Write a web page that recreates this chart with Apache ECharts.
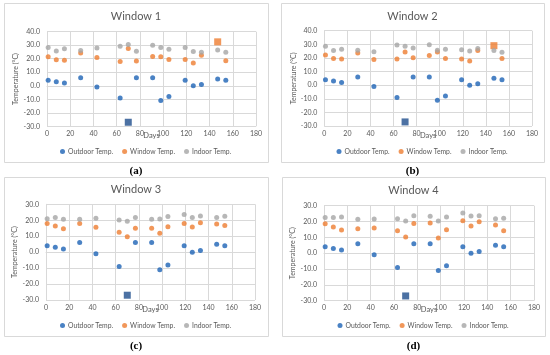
<!DOCTYPE html>
<html>
<head>
<meta charset="utf-8">
<script src="https://cdn.jsdelivr.net/npm/echarts@6/dist/echarts.min.js"></script>
<style>
html,body{margin:0;padding:0;background:#fff;}
#c{width:550px;height:355px;}
</style>
</head>
<body>
<div id="c"></div>
<script>
// ---- data ----
const days = [1, 8, 15, 29, 43, 63, 70, 77, 91, 98, 105, 119, 126, 133, 147, 154];
const outdoorTemp = [4, 3, 2, 6, -1, -9, -27, 6, 6, -11, -8, 4, 0, 1, 5, 4];
const w1Window = [21.5, 19.3, 18.8, 24.2, 21, 18, 27.5, 18.3, 21.7, 21.5, 19.5, 19.5, 16.8, 22.5, 32.5, 18.5];
const w1Indoor = [28.3, 25.8, 27.3, 26, 28, 29.3, 30.5, 25.6, 30, 28.3, 27, 28.3, 25.3, 24.8, 26.5, 24.8];
const w2Window = [22.2, 19.5, 19.3, 23.7, 18.8, 19.3, 24.4, 20.2, 21.7, 24.4, 19.5, 19.3, 17.8, 25.4, 29, 19.5];
const w2Indoor = [28.5, 25.4, 26.3, 25.6, 24.6, 29.5, 28.5, 27.3, 29.7, 25.6, 26.3, 26, 25, 27, 25.4, 24.1];
const w3Window = [17.9, 16.4, 14.6, 17.9, 15.6, 12.5, 9.6, 15, 15, 11.8, 16, 17.9, 15.8, 18.5, 17.7, 16.7];
const w3Indoor = [21, 21.7, 20.6, 20.6, 21.3, 20.2, 19.4, 21.7, 20.6, 20.8, 22.3, 23.6, 21.7, 22.7, 21.7, 22.5];
const w4Window = [18.6, 16.5, 14.6, 15.4, 15.9, 14.2, 10.2, 18.8, 19.1, 9.6, 14.8, 20.5, 17.2, 19.9, 17.8, 14.2];
const w4Indoor = [22.6, 22.6, 22.8, 21.4, 21.6, 21.8, 20.3, 23.7, 23.3, 20.3, 22.8, 25.4, 23.5, 23.7, 21.8, 22];
const panelTitles = ['Window 1', 'Window 2', 'Window 3', 'Window 4'];
const panelLetters = ['(a)', '(b)', '(c)', '(d)'];
const windowSeries = [w1Window, w2Window, w3Window, w4Window];
const indoorSeries = [w1Indoor, w2Indoor, w3Indoor, w4Indoor];
const yMaxes = [40, 40, 30, 30];
const yMin = -30;
const outdoorMinIdx = 6;                 // highlighted (square) outdoor point
const windowMaxIdx = [14, 14, -1, -1];   // highlighted (square) window point per panel
const seriesNames = ['Outdoor Temp.', 'Window Temp.', 'Indoor Temp.'];

// ---- layout ----
const layout = [
  {box: [4, 3, 264, 159], grid: [47, 31.7, 209, 94.6], titleY: 16, daysY: 136, legendY: 152, letterY: 171},
  {box: [281, 3, 263, 159], grid: [324.3, 30.7, 207.7, 95.3], titleY: 16, daysY: 136, legendY: 152, letterY: 171},
  {box: [4, 177, 264, 159], grid: [46, 204.3, 209, 95.7], titleY: 189.5, daysY: 310, legendY: 326, letterY: 346},
  {box: [282, 177, 263, 159], grid: [324, 205.7, 210, 95], titleY: 190, daysY: 310, legendY: 326, letterY: 346}
];
const FONT = 'Lato, "Open Sans", sans-serif';
const TXT = '#595959';
const colors = ['#1D63B5', '#ED7D31', '#A5A5A5'];
const squareColors = ['#1F4E8C', '#ED7D31'];

const grids = [], xAxes = [], yAxes = [], series = [], legends = [], graphics = [];

function pts(ys, hiIdx, hiColor) {
  return ys.map((v, i) => {
    if (i === hiIdx) return {value: [days[i], v], symbol: 'rect', symbolSize: 7, itemStyle: {color: hiColor}};
    return [days[i], v];
  });
}

function label(x, y, text, font, fill) {
  return {type: 'text', x: x, y: y, silent: true,
    style: {text: text, font: font, fill: fill, align: 'center', verticalAlign: 'middle',
            textAlign: 'center', textVerticalAlign: 'middle'}};
}

layout.forEach((L, p) => {
  const [gl, gt, gw, gh] = L.grid;
  const [bx, by, bw, bh] = L.box;
  graphics.push({type: 'rect', shape: {x: bx + 0.5, y: by + 0.5, width: bw, height: bh},
    style: {fill: '#fff', stroke: '#D9D9D9', lineWidth: 1}, z: -10, silent: true});
  const cx = bx + bw / 2;
  graphics.push(label(cx, L.titleY, panelTitles[p], '11px ' + FONT, TXT));
  graphics.push(label(gl + gw / 2, L.daysY, 'Days', '7.5px ' + FONT, TXT));
  graphics.push(label(cx, L.letterY, panelLetters[p], 'bold 11px "Liberation Serif", "DejaVu Serif", serif', '#000'));

  grids.push({left: gl, top: gt, width: gw, height: gh, containLabel: false});
  xAxes.push({type: 'value', gridIndex: p, min: 0, max: 180, interval: 20,
    axisLine: {onZero: true, lineStyle: {color: '#D9D9D9'}}, axisTick: {show: false},
    axisLabel: {color: TXT, fontSize: 7, fontFamily: FONT, margin: 4},
    splitLine: {show: true, lineStyle: {color: '#D9D9D9'}}});
  yAxes.push({type: 'value', gridIndex: p, min: yMin, max: yMaxes[p], interval: 10,
    name: 'Temperature (°C)', nameLocation: 'middle', nameGap: 24, nameRotate: 90,
    nameTextStyle: {color: TXT, fontSize: 7, fontFamily: FONT},
    axisLine: {show: true, lineStyle: {color: '#D9D9D9'}}, axisTick: {show: false},
    axisLabel: {color: TXT, fontSize: 7, fontFamily: FONT, margin: 7, formatter: v => v.toFixed(1)},
    splitLine: {show: true, lineStyle: {color: '#D9D9D9'}}});
  series.push({type: 'scatter', name: seriesNames[0], xAxisIndex: p, yAxisIndex: p, symbolSize: 5,
    itemStyle: {color: colors[0]}, data: pts(outdoorTemp, outdoorMinIdx, squareColors[0])});
  series.push({type: 'scatter', name: seriesNames[1], xAxisIndex: p, yAxisIndex: p, symbolSize: 5,
    itemStyle: {color: colors[1]}, data: pts(windowSeries[p], windowMaxIdx[p], squareColors[1])});
  series.push({type: 'scatter', name: seriesNames[2], xAxisIndex: p, yAxisIndex: p, symbolSize: 5,
    itemStyle: {color: colors[2]}, data: pts(indoorSeries[p], -1, colors[2])});
  legends.push({data: seriesNames, left: cx - 76, top: L.legendY - 4, icon: 'circle', itemWidth: 5, itemHeight: 5,
    itemGap: 9, textStyle: {color: TXT, fontSize: 6.8, fontFamily: FONT, padding: [0, 0, 0, -2]}, padding: 0, selectedMode: false});
});

const chart = echarts.init(document.getElementById('c'));
chart.setOption({
  animation: false,
  backgroundColor: '#fff',
  grid: grids, xAxis: xAxes, yAxis: yAxes, series: series, legend: legends,
  graphic: graphics
});
</script>
</body>
</html>
